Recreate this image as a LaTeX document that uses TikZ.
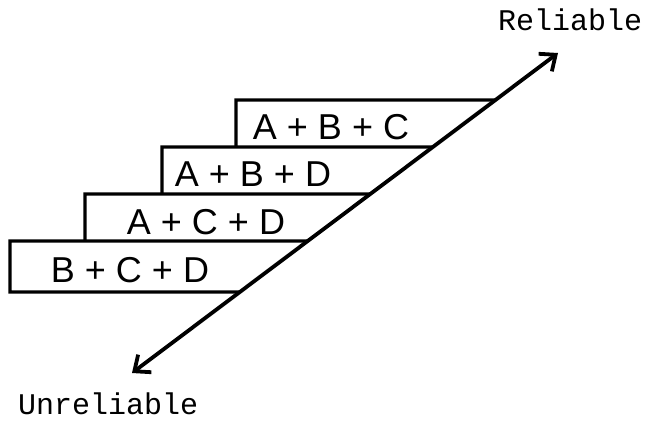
\documentclass[tikz,border=0pt]{standalone}
\usepackage{fontspec}
\setmainfont{Liberation Sans}
\newfontfamily\monofam{Liberation Mono}
\usetikzlibrary{arrows.meta,calc}
\begin{document}
\begin{tikzpicture}[x=1pt,y=-1pt,
  boxline/.style={line width=3.2pt, line join=miter},
  axisline/.style={line width=3.8pt, {Straight Barb[length=13pt,width=22pt,line width=3.8pt]}-{Straight Barb[length=13pt,width=22pt,line width=3.8pt]}},
  combo/.style={font=\fontsize{36}{36}\selectfont, inner sep=0pt, anchor=center},
  endlabel/.style={font=\monofam\fontsize{30}{30}\selectfont, inner sep=0pt, anchor=base west}]
\useasboundingbox (0,0) rectangle (645,421);
\coordinate (lo) at (132,373);
\coordinate (hi) at (558,53);
\coordinate (p100) at ($(lo)!0.8531!(hi)$);
\coordinate (p147) at ($(lo)!0.7063!(hi)$);
\coordinate (p194) at ($(lo)!0.5594!(hi)$);
\coordinate (p241) at ($(lo)!0.4125!(hi)$);
\coordinate (p292) at ($(lo)!0.2531!(hi)$);
% boxes
\draw[boxline] (p100) -- (236,100) -- (236,147);
\draw[boxline] (p147) -- (162,147) -- (162,194);
\draw[boxline] (p194) -- (85,194) -- (85,241);
\draw[boxline] (p241) -- (10,241) -- (10,292) -- (p292);
% axis
\draw[axisline] (lo) -- (hi);
% labels
\node[combo] (abc) at (331,127) {A + B + C};
\node[combo] (abd) at (253,174) {A + B + D};
\node[combo] (acd) at (206,222) {A + C + D};
\node[combo] (bcd) at (130,270) {B + C + D};
\node[endlabel] (rel) at (498,30) {Reliable};
\node[endlabel] (unrel) at (18,414) {Unreliable};
\end{tikzpicture}
\end{document}
